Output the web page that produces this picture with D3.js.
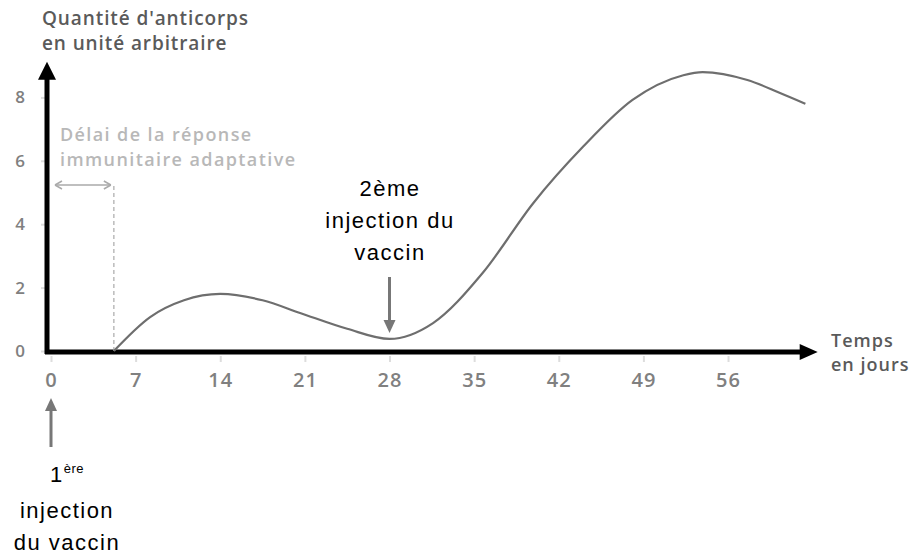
<!DOCTYPE html>
<html>
<head>
<meta charset="utf-8">
<script src="https://cdn.jsdelivr.net/npm/d3@7"></script>
<style>
  body { margin: 0; background: #fff; }
  .axis-lbl { font-family: "Open Sans", sans-serif; }
</style>
</head>
<body>
<div id="chart"></div>
<script>
// jours / quantité d'anticorps
const days = [5.2, 8.2, 11, 14, 17.5, 20.6, 24.5, 28, 31.6, 35.7, 39.9, 44, 48.1, 52.3, 53.9, 57.6, 60.3, 62.4];
const antibodies = [0, 1.07, 1.6, 1.8, 1.6, 1.2, 0.7, 0.38, 0.88, 2.46, 4.67, 6.44, 7.92, 8.7, 8.8, 8.55, 8.14, 7.8];
const xTicks = [0, 7, 14, 21, 28, 35, 42, 49, 56];
const yTicks = [0, 2, 4, 6, 8];
const delayDay = 5.2;
const secondDoseDay = 28;

const width = 922, height = 556;

const svg = d3.select('#chart').append('svg')
  .attr('width', width)
  .attr('height', height);

const x = d3.scaleLinear().domain([0, 63]).range([51, 51 + 63 * 12.09]);
const y = d3.scaleLinear().domain([0, 9]).range([351, 351 - 9 * 31.7]);

// faint ticks + labels
const xAxis = svg.append('g')
  .attr('transform', `translate(0,${y(0) + 5})`)
  .call(d3.axisBottom(x).tickValues(xTicks).tickSize(6).tickPadding(11));
xAxis.select('.domain').remove();
xAxis.selectAll('line').attr('stroke', '#ddd').attr('stroke-width', 2);
xAxis.selectAll('text')
  .attr('class', 'axis-lbl')
  .attr('fill', '#808080')
  .style('font-size', '20px')
  .style('font-weight', 600)
  .style('letter-spacing', '1px');

const yAxis = svg.append('g')
  .attr('transform', `translate(${x(0) - 4},0)`)
  .call(d3.axisLeft(y).tickValues(yTicks).tickSize(6).tickPadding(16));
yAxis.select('.domain').remove();
yAxis.selectAll('line').attr('stroke', '#ddd').attr('stroke-width', 2);
yAxis.selectAll('text')
  .attr('class', 'axis-lbl')
  .attr('fill', '#808080')
  .style('font-size', '17px')
  .style('font-weight', 600);

// black axes with arrows
const ax0 = x(0) - 4, ay0 = y(0) + 1;
const axEnd = x(63) + 5, ayTop = y(9) - 4;
svg.append('line')
  .attr('x1', ax0).attr('y1', ay0 + 2).attr('x2', ax0).attr('y2', ayTop + 16)
  .attr('stroke', '#000').attr('stroke-width', 5);
svg.append('path')
  .attr('d', `M${ax0},${ayTop} L${ax0 - 9},${ayTop + 18} L${ax0 + 9},${ayTop + 18} Z`)
  .attr('fill', '#000');
svg.append('line')
  .attr('x1', ax0 - 2).attr('y1', ay0).attr('x2', axEnd - 16).attr('y2', ay0)
  .attr('stroke', '#000').attr('stroke-width', 5);
svg.append('path')
  .attr('d', `M${axEnd},${ay0} L${axEnd - 18},${ay0 - 8} L${axEnd - 18},${ay0 + 8} Z`)
  .attr('fill', '#000');

// delay marker
const gray = '#aaa';
svg.append('line')
  .attr('x1', x(delayDay)).attr('x2', x(delayDay))
  .attr('y1', y(0)).attr('y2', y(5.3))
  .attr('stroke', gray).attr('stroke-width', 1.2).attr('stroke-dasharray', '4,3');
const ay = y(5.3) + 2;
svg.append('line')
  .attr('x1', x(0) + 4).attr('x2', x(delayDay) - 3).attr('y1', ay).attr('y2', ay)
  .attr('stroke', gray).attr('stroke-width', 1.5);
svg.append('path')
  .attr('d', `M${x(0) + 4},${ay} l7,-4 M${x(0) + 4},${ay} l7,4 M${x(delayDay) - 3},${ay} l-7,-4 M${x(delayDay) - 3},${ay} l-7,4`)
  .attr('stroke', gray).attr('stroke-width', 1.5).attr('fill', 'none');

// curve
const pts = days.map((d, i) => [d, antibodies[i]]);
svg.append('path')
  .datum(pts)
  .attr('fill', 'none')
  .attr('stroke', '#6e6e6e')
  .attr('stroke-width', 2.2)
  .attr('d', d3.line().x(d => x(d[0])).y(d => y(d[1])).curve(d3.curveMonotoneX));

// arrows for injections
const arrowGray = '#777';
const xs = x(secondDoseDay);
svg.append('line')
  .attr('x1', xs).attr('x2', xs).attr('y1', 277).attr('y2', 322)
  .attr('stroke', arrowGray).attr('stroke-width', 3);
svg.append('path')
  .attr('d', `M${xs},${333} L${xs - 6},${320} L${xs + 6},${320} Z`)
  .attr('fill', arrowGray);

const x0 = x(0);
svg.append('line')
  .attr('x1', x0).attr('x2', x0).attr('y1', 410).attr('y2', 447)
  .attr('stroke', arrowGray).attr('stroke-width', 3);
svg.append('path')
  .attr('d', `M${x0},${398} L${x0 - 6},${411} L${x0 + 6},${411} Z`)
  .attr('fill', arrowGray);

// texts
const title = svg.append('text')
  .attr('class', 'axis-lbl')
  .attr('fill', '#5a5a5a').style('font-size', '19px').style('font-weight', 600)
  .style('letter-spacing', '0.9px');
title.append('tspan').attr('x', 42).attr('y', 25).text("Quantité d'anticorps");
title.append('tspan').attr('x', 42).attr('y', 50).text('en unité arbitraire');

const delay = svg.append('text')
  .attr('class', 'axis-lbl')
  .attr('fill', '#b8b8b8').style('font-size', '18px').style('font-weight', 600)
  .style('letter-spacing', '1.4px');
delay.append('tspan').attr('x', 60).attr('y', 141).text('Délai de la réponse');
delay.append('tspan').attr('x', 60).attr('y', 166).text('immunitaire adaptative');

const temps = svg.append('text')
  .attr('class', 'axis-lbl')
  .attr('fill', '#5a5a5a').style('font-size', '18px').style('font-weight', 600)
  .style('letter-spacing', '1px');
temps.append('tspan').attr('x', 831).attr('y', 347).text('Temps');
temps.append('tspan').attr('x', 831).attr('y', 371).text('en jours');

const second = svg.append('text')
  .attr('text-anchor', 'middle')
  .style('font-family', '"Liberation Sans", Arial, sans-serif')
  .style('font-size', '22px')
  .style('letter-spacing', '1.5px')
  .attr('fill', '#000');
['2ème', 'injection du', 'vaccin'].forEach((t, i) => {
  second.append('tspan').attr('x', 390).attr('y', 196 + i * 32).text(t);
});

const first = svg.append('text')
  .attr('text-anchor', 'middle')
  .style('font-family', '"Liberation Sans", Arial, sans-serif')
  .style('font-size', '22px')
  .style('letter-spacing', '1.5px')
  .attr('fill', '#000');
const l1 = first.append('tspan').attr('x', 67).attr('y', 482);
l1.append('tspan').text('1');
l1.append('tspan').attr('dy', -9).style('font-size', '13px').style('letter-spacing', '0.5px').text('ère');
first.append('tspan').attr('x', 67).attr('y', 518).text('injection');
first.append('tspan').attr('x', 67).attr('y', 550).text('du vaccin');
</script>
</body>
</html>
